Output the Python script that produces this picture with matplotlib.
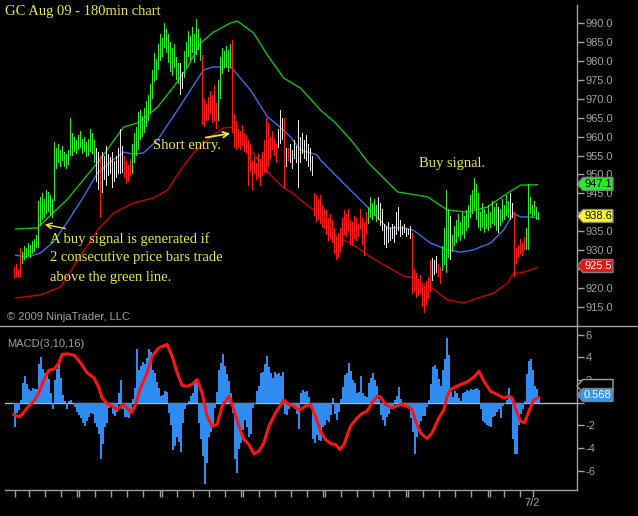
import matplotlib
matplotlib.use("Agg")
import matplotlib.pyplot as plt
from matplotlib.patches import Polygon
from matplotlib.lines import Line2D

# ---------------- data ----------------
highs = [925.5, 926.5, 925.0, 930.5,
         929.5, 931.0, 930.5, 932.0, 931.5, 932.5, 933.0, 934.0,
         943.0,
         944.0, 945.0, 943.5, 946.0, 945.5, 944.5, 943.5,
         958.5,
         957.0, 958.0, 956.5, 957.5, 956.0, 955.5, 956.5,
         965.0,
         961.0, 960.0, 959.0, 960.5, 961.5, 959.5, 960.0, 958.5, 959.5, 962.0, 961.0,
         959.0,
         957.0, 956.0,
         955.0,
         956.0, 955.0, 957.5, 955.5, 954.5, 956.0, 953.5, 955.0, 957.0, 962.0,
         957.5,
         955.0, 953.5, 952.5, 954.0,
         958.0, 961.0, 962.5, 966.5, 967.0, 965.5, 967.5,
         969.5, 971.0, 974.0,
         977.5, 982.0, 980.5,
         984.5, 987.0, 986.0,
         990.0, 988.5,
         987.0, 985.0, 983.5, 984.5,
         981.0, 979.5, 979.5, 977.0,
         982.5, 985.0, 988.0, 986.5, 989.0, 987.0, 991.0, 988.5, 986.0,
         981.5,
         970.0, 968.5, 970.5, 972.0, 971.0, 973.5, 969.0,
         975.0, 981.0, 983.5, 982.5, 984.0, 983.0, 984.5,
         985.5,
         966.0, 964.0, 962.0, 961.5, 963.0, 961.0, 960.5, 959.0, 958.0,
         953.5, 954.5, 953.0, 955.5, 954.0, 956.0,
         959.0, 965.0, 963.5, 960.0, 961.5, 959.5,
         958.0,
         962.0, 967.0, 965.0,
         965.0,
         957.0, 957.0, 958.0, 956.5, 959.0, 957.5,
         964.5,
         960.0, 961.0, 959.0, 960.5, 958.0, 957.0, 955.0,
         945.0, 944.5, 943.5, 944.5, 942.0, 941.0,
         940.5, 938.5, 939.5, 938.0, 936.0, 933.5, 934.5, 936.0, 938.5, 940.5, 939.5,
         941.0, 938.0, 937.5, 939.0, 938.5, 937.0, 941.0, 938.5, 937.5, 940.0,
         941.5, 944.0, 942.5, 943.5, 942.0, 944.0,
         942.5, 941.0, 937.0, 936.5, 937.5, 936.0, 937.0, 936.5, 940.0, 941.5, 938.0,
         936.5, 937.0, 936.0, 935.5, 936.5,
         934.5,
         925.0, 924.0, 922.5, 923.5, 921.0, 920.5, 922.0, 923.0, 927.5,
         928.0, 927.5, 928.5, 926.5, 925.5,
         931.0, 936.0, 946.0, 941.0,
         939.0,
         934.0, 936.5, 938.0, 939.5, 937.5, 940.0, 939.0, 940.5,
         942.0, 944.5, 946.0, 949.0, 947.5, 945.0,
         940.0, 942.5, 941.0, 939.5, 942.0, 940.0, 943.0, 941.5, 942.5,
         941.5,
         941.0, 943.5, 942.0, 944.5, 943.0,
         945.0, 942.5,
         940.0,
         930.5, 931.5, 933.0, 932.0, 933.5,
         936.0, 947.5,
         944.0, 942.0, 943.0, 941.5, 940.0]

lows = [922.5, 923.0, 922.8, 923.0,
        926.5, 927.5, 928.0, 928.5, 928.0, 929.0, 929.5, 930.5,
        930.5,
        936.5, 938.0, 938.5, 939.5, 940.0, 939.0, 938.5,
        943.0,
        951.5, 953.0, 952.0, 953.5, 952.0, 951.5, 952.5,
        955.0,
        955.0, 956.0, 955.5, 956.5, 957.0, 955.5, 956.0, 954.5, 955.0, 956.0, 955.5,
        953.0,
        948.0, 946.0,
        938.5,
        945.0, 948.5, 947.0, 949.5, 950.0, 946.5, 948.0, 949.0, 950.0, 950.0,
        950.5,
        949.0, 947.5, 948.0, 949.5,
        950.0, 953.0, 955.0, 956.5, 959.0, 960.0, 961.0,
        962.5, 964.0, 966.0,
        970.0, 974.5, 975.0,
        977.5, 980.0, 981.0,
        983.5, 982.0,
        979.5, 977.0, 976.0, 978.0,
        975.0, 974.0, 971.0, 972.5,
        975.5, 978.0, 981.0, 980.0, 982.0, 979.5, 981.5, 983.0, 980.0,
        963.0,
        962.5, 964.0, 964.5, 966.0, 963.5, 964.0, 962.0,
        964.0, 970.0, 976.5, 978.0, 978.5, 977.0, 978.0,
        961.0,
        957.0, 956.5, 957.0, 956.5, 957.5, 956.0, 955.5, 947.0, 951.0,
        946.0, 950.0, 948.5, 949.0, 947.0, 949.5,
        950.5, 950.5, 952.0, 954.0, 956.5, 955.0,
        953.0,
        957.0, 958.0, 959.0,
        946.5,
        952.0, 953.5, 953.0, 951.5, 954.0, 953.0,
        946.5,
        953.0, 955.5, 954.0, 953.5, 952.0, 951.0, 949.5,
        939.0, 937.5, 938.0, 937.0, 936.0, 935.5,
        934.0, 932.5, 933.0, 932.0, 929.0, 927.5, 928.0, 929.5, 931.0, 934.0, 933.5,
        935.0, 931.5, 931.0, 933.0, 932.5, 933.5, 935.5, 931.5, 928.5, 934.0,
        937.0, 938.5, 938.0, 939.0, 937.5, 938.0,
        936.5, 935.0, 931.5, 930.5, 932.0, 932.5, 933.0, 932.0, 934.0, 935.0, 933.5,
        934.0, 934.5, 933.5, 934.0, 933.0,
        918.5,
        919.0, 917.5, 918.0, 918.5, 915.0, 913.5, 915.5, 917.0, 919.0,
        922.0, 923.5, 924.0, 923.0, 921.0,
        924.5, 926.0, 924.0, 928.0,
        927.5,
        929.5, 931.0, 932.0, 933.5, 932.5, 934.0, 933.0, 935.0,
        936.0, 938.5, 939.5, 941.0, 938.0, 936.0,
        935.0, 936.0, 934.5, 935.5, 935.0, 936.0, 937.0, 936.5, 935.0,
        934.5,
        936.5, 937.5, 938.0, 939.0, 938.5,
        938.0, 938.5,
        923.0,
        926.5, 928.0, 929.0, 928.5, 930.0,
        930.0, 930.0,
        939.5, 938.5, 939.0, 938.0, 938.0]

# bar colour runs: R = down (red), G = up (green), W = neutral (white)
color_runs = [("R", 4), ("G", 37), ("W", 2), ("R", 1), ("W", 11), ("R", 4), ("G", 24),
              ("W", 2), ("G", 9), ("R", 8), ("G", 7), ("R", 23), ("W", 3), ("R", 1),
              ("W", 1), ("R", 1), ("W", 12), ("R", 27), ("G", 5), ("W", 17), ("R", 10),
              ("W", 3), ("R", 2), ("G", 4), ("W", 1), ("G", 23), ("W", 1), ("G", 5),
              ("W", 2), ("R", 6), ("G", 7)]

# bands (bar index, price)
upper_x = [0.5, 11.5, 26.5, 43, 54.5, 63, 71.5, 79.5, 86.5, 93, 99.5, 108, 111.5, 119.5,
           126.5, 134.5, 143, 153, 160.5, 169.5, 177, 180.5, 191.5, 206.5, 216.5, 226.5,
           236.5, 246.5, 253, 261.5]
upper_y = [935.6, 935.9, 943.5, 954.1, 962.5, 963.9, 967.8, 973.1, 978.4, 984.7, 987.6,
           990.0, 990.5, 987.4, 981.5, 975.5, 972.8, 967.0, 963.6, 958.3, 953.0, 951.2,
           945.4, 944.1, 940.6, 940.1, 941.4, 945.1, 947.2, 947.3]
mid_x = [0.5, 6.5, 13, 19.5, 26.5, 34.5, 41.5, 48, 54.5, 59.5, 64.5, 71.5, 81.5, 88, 94.5,
         99.5, 108, 109.5, 118, 126.5, 131.5, 138, 143, 151.5, 153, 163, 178, 186.5, 194.5,
         199.5, 208, 216.5, 223, 229.5, 238, 244.5, 249.5, 253, 258, 262]
mid_y = [928.7, 928.2, 929.3, 932.2, 937.5, 944.1, 950.4, 953.3, 955.9, 955.4, 955.7,
         959.1, 967.0, 972.3, 977.6, 978.4, 978.4, 977.6, 972.3, 965.2, 963.1, 959.9, 956.5,
         955.1, 953.8, 948.5, 940.6, 935.9, 935.9, 935.3, 931.9, 930.1, 929.5, 930.1, 931.9,
         935.3, 939.8, 938.8, 938.8, 938.6]
lower_x = [0.5, 13, 23, 31.5, 41.5, 49.5, 59.5, 69.5, 76.5, 83, 89.5, 98, 104.5, 109.5,
           115.5, 122, 127, 134, 139, 143, 149.5, 153, 161.5, 169.5, 178, 186.5, 194.5,
           199.5, 208, 216.5, 224.5, 233, 239.5, 246.5, 249.5, 253, 258, 261.5]
lower_y = [917.4, 918.2, 920.3, 927.4, 935.3, 939.8, 942.5, 943.8, 945.9, 951.2, 955.7,
           959.9, 962.3, 962.5, 958.3, 953.8, 950.4, 946.7, 945.1, 943.3, 940.6, 938.2,
           933.5, 931.4, 928.2, 925.6, 923.2, 922.7, 920.3, 916.9, 916.1, 917.6, 918.7,
           921.3, 924.0, 924.0, 924.8, 925.5]

macd_hist = [-2.2, -0.9, -0.7, 0.2, 1.7, 2.3, 1.6, 1.2, 1.0, 1.3, 1.2, 1.2, 3.4, 4.0, 3.0,
             2.6, 2.4, 2.1, 0.8, -0.6, 2.0, 3.0, 3.7, 2.2, 0.7, 0.1, -0.6, 0.1, 0.2, 0.0,
             -0.4, -0.8, -1.1, -1.4, -1.8, -2.1, -1.6, -1.3, -0.9, -1.0, -1.8, -2.2, -2.8,
             -5.0, -3.7, -2.2, -1.8, -0.5, -0.4, -1.0, -1.2, -0.8, 0.8, 2.0, -0.6, -1.3,
             -1.3, -1.4, -0.7, 0.3, 1.3, 4.7, 2.9, 3.2, 3.6, 3.4, 3.9, 4.7, 4.5, 2.9, 2.6,
             1.8, 1.3, 0.6, 0.7, 1.0, 0.9, -0.9, -2.0, -4.2, -3.8, -3.0, -3.5, -4.4, -1.8,
             -0.6, -0.2, 0.1, 0.6, 0.8, 2.0, 2.1, -1.8, -3.2, -4.7, -7.2, -5.3, -3.0, -2.6,
             -2.1, -0.5, 0.9, 2.9, 3.5, 4.3, 3.2, 2.5, 1.9, 0.8, -0.9, -5.0, -6.2, -4.1,
             -3.6, -2.4, -1.5, -2.2, -3.0, -2.8, -0.5, -0.1, 1.0, 1.5, 2.6, 2.7, 3.4, 4.1,
             3.1, 2.6, 2.2, 2.7, 2.5, 2.6, 2.3, 2.7, -1.0, -1.1, -0.6, -0.3, -0.2, -0.6,
             -1.0, -2.3, 0.8, 1.1, 0.9, 1.0, 0.5, -0.3, -3.2, -3.6, -2.9, -3.3, -3.4,
             -2.2, -2.0, -1.5, -1.7, -1.1, 0.4, -1.0, -1.5, -0.8, 0.3, 1.4, 2.4, 2.6, 3.5,
             2.8, 2.0, 1.7, 0.8, 0.9, 2.3, 0.8, 0.6, 0.5, 1.7, 2.2, 2.6, 2.0, 1.5, 0.3,
             -1.1, -1.5, -2.1, -1.3, -1.0, -0.6, -0.3, 0.2, 0.6, 1.4, 0.3, -0.3, -0.3, -0.4,
             -0.5, -1.4, -2.6, -4.5, -3.0, -2.0, -1.6, -1.2, -1.2, -0.4, 0.2, 1.6, 3.1, 3.3,
             3.0, 2.1, 1.5, 2.9, 3.8, 5.7, 4.2, 0.9, 0.5, 1.0, 0.8, 0.4, 0.1, 0.8, 0.9, 1.1,
             1.0, 1.2, 1.1, 1.2, 1.3, 1.1, -0.6, -1.6, -1.8, -2.0, -2.1, -2.2, -1.3, -1.2,
             -0.8, -0.6, -1.4, -0.3, -0.1, 0.2, 1.3, 0.6, -3.2, -4.5, -4.5, -2.0, -1.0, -0.6,
             0.1, 2.5, 3.7, 3.8, 2.9, 1.5, 1.2, 0.4]

macd_x = [-0.3, 2.2, 3.8, 6.3, 9.7, 12.2, 14.7, 17.2, 20, 22.2, 23.8, 26.3, 29.7, 33, 36.3,
          39.7, 42.2, 43.8, 46.3, 48.8, 51.3, 54.3, 56.3, 58.5, 60.5, 63, 66.3, 68.8, 72.2,
          76.3, 78.8, 81.3, 83.8, 86.3, 88.8, 91.3, 93.8, 96.3, 98.8, 101.3, 103.8, 107.2,
          109.7, 112.2, 114.7, 117.2, 119.7, 122.2, 124.7, 127.2, 130.5, 134.7, 137.2, 139.7,
          142.2, 145.5, 148, 150.5, 153, 155.5, 158, 160.5, 162.7, 164.7, 168, 171.3, 173.8,
          176.3, 178.8, 181.3, 183, 185.5, 188.8, 193, 196.3, 198.8, 200.5, 203, 206.3,
          208.8, 212.2, 214.7, 216.3, 218, 221.3, 223, 225.5, 228, 230.5, 232.2, 234.7, 238,
          241.3, 244.7, 247.2, 248.8, 251.3, 253, 255, 257.2, 259.7, 262.2]
macd_line = [-1.06, -1.26, -1.06, -0.47, 0.12, 0.85, 2.03, 2.85, 2.97, 3.5, 4.24, 4.29, 4.18,
             3.5, 2.62, 2.18, 1.29, 0.41, -0.09, -0.32, -0.62, -0.18, -0.47, -0.91, -0.18,
             1.29, 2.62, 4.09, 4.82, 5.12, 4.09, 2.62, 1.5, 1.44, 1.59, 2.03, 0.85, -1.21,
             -2.09, -1.94, -0.32, 0.56, -0.62, -2.09, -3.26, -3.71, -4.53, -4.29, -3.56,
             -2.09, -0.91, 0.21, -0.18, -0.32, -0.68, -0.32, -0.18, -1.21, -2.53, -3.26,
             -3.62, -3.71, -4.15, -3.71, -2.09, -1.35, -0.97, -0.76, -0.03, 0.56, 0.5, -0.18,
             -0.47, -0.18, -0.32, -0.62, -1.65, -2.68, -3.18, -2.68, -1.35, -0.62, 0.56, 1.15,
             1.44, 1.59, 1.74, 2.03, 2.38, 2.76, 1.88, 1.0, 0.71, 0.41, 0.56, 0.41, -0.91,
             -1.65, -1.79, -0.76, 0.26, 0.41]

price_ticks = [915, 920, 925, 930, 935, 940, 945, 950, 955, 960, 965, 970, 975, 980, 985, 990]
price_hidden = [925, 940]          # labels covered by the value markers
macd_ticks = [-6, -4, -2, 0, 2, 4, 6]
macd_hidden = [0]
time_ticks = [0.15, 7.15, 15.15, 23.15, 31.15, 32.15, 40.15, 48, 56, 64, 72.5, 73.5, 81, 89,
              97, 105, 113, 114, 122, 130, 138, 146, 154, 155, 163, 171, 179, 187, 195.5,
              196.5, 204, 212, 220, 228, 236.5, 237.5, 244.5, 252.5, 259]
time_labels = {259: "7/2"}

# ---------------- figure ----------------
W, H = 638, 516
fig = plt.figure(figsize=(W / 100, H / 100), dpi=100, facecolor="black")


def fx(px):
    return px / W


def fy(py):
    return 1 - py / H


GRAY = "#a0a0a0"
YEL = "#e8e84a"
BAR_COL = {"R": "#ff1a1a", "G": "#2ee82e", "W": "#e4e4e4"}

ax = fig.add_axes([fx(0), fy(326), fx(577), (326 - 5) / H])
ax.set_facecolor("black")
ax.set_xlim(-7.25, 281.25)
ax.set_ylim(910.0, 994.75)

colors = []
for c, n in color_runs:
    colors += [c] * n
idx = list(range(len(highs)))

# price bars: 1-pixel wide high-low columns
for key in ["R", "W", "G"]:
    xs = [i for i in idx if colors[i] == key]
    hs = [highs[i] - lows[i] for i in xs]
    bs = [lows[i] for i in xs]
    ax.bar(xs, hs, bottom=bs, width=0.5, color=BAR_COL[key], linewidth=0,
           antialiased=False, zorder=3)

ax.plot(upper_x, upper_y, color="#10c010", lw=1.0, zorder=2)
ax.plot(mid_x, mid_y, color="#3a6ee8", lw=1.0, zorder=2)
ax.plot(lower_x, lower_y, color="#c80000", lw=1.0, zorder=2)

for s in ["left", "top", "bottom"]:
    ax.spines[s].set_visible(False)
ax.spines["right"].set_color(GRAY)
ax.spines["right"].set_linewidth(1)
ax.yaxis.tick_right()
ax.set_yticks(price_ticks)
ax.set_yticklabels(["" if v in price_hidden else f"{v:.1f}" for v in price_ticks])
ax.tick_params(axis="y", colors=GRAY, length=5, width=1, pad=1, labelsize=8,
               labelcolor=GRAY)
for t in ax.get_yticklabels():
    t.set_fontfamily("Liberation Sans")
ax.set_xticks([])

# MACD panel
ax2 = fig.add_axes([fx(5), fy(490), fx(577) - fx(5), (490 - 326) / H])
ax2.set_facecolor("black")
ax2.set_xlim(-4.75, 281.25)
ax2.set_ylim(-7.72, 6.75)
ax2.bar(idx, macd_hist, width=1.0, color="#2f8cf0", linewidth=0, zorder=2)
ax2.axhline(0, color="#b8b8b8", lw=1, zorder=1)
ax2.plot(macd_x, macd_line, color="#ff1414", lw=2.2, zorder=3)
for s in ["left", "top"]:
    ax2.spines[s].set_visible(False)
for s in ["right", "bottom"]:
    ax2.spines[s].set_color(GRAY)
    ax2.spines[s].set_linewidth(1)
ax2.yaxis.tick_right()
ax2.set_yticks(macd_ticks)
ax2.set_yticklabels(["" if v in macd_hidden else str(v) for v in macd_ticks])
ax2.set_xticks(time_ticks)
ax2.set_xticklabels([time_labels.get(t, "") for t in time_ticks])
ax2.tick_params(colors=GRAY, length=5, width=1, pad=1, labelsize=8, labelcolor=GRAY)
for t in ax2.get_yticklabels() + ax2.get_xticklabels():
    t.set_fontfamily("Liberation Sans")

# separator
fig.add_artist(Line2D([0, 1], [fy(326), fy(326)], transform=fig.transFigure,
                      color=GRAY, lw=1))


def value_box(yc, text, face, tcol, edge="#808080", z=10, show=True):
    pts = [(577, yc), (583, yc - 6.5), (613, yc - 6.5), (613, yc + 6.5), (583, yc + 6.5)]
    poly = Polygon([(fx(a), fy(b)) for a, b in pts], closed=True, transform=fig.transFigure,
                   facecolor=face, edgecolor=edge, lw=1, zorder=z)
    fig.add_artist(poly)
    if show:
        fig.text(fx(598), fy(yc), text, color=tcol, fontsize=8, ha="center", va="center",
                 family="Liberation Sans", zorder=z + 1)


value_box(184, "947.1", "#22ee22", "black")
value_box(216, "938.6", "#ffff22", "black")
value_box(266, "925.5", "#ee1111", "white")
value_box(386, "", "black", GRAY, edge=GRAY, z=8, show=False)
value_box(395, "0.568", "#3398ee", "white")

# texts
fig.text(fx(5), fy(12), "GC Aug 09 - 180min chart", color=YEL, fontsize=10.5,
         family="Liberation Serif", va="center", ha="left")
fig.text(fx(153), fy(145), "Short entry.", color=YEL, fontsize=10.5,
         family="Liberation Serif", va="center", ha="left")
fig.text(fx(419), fy(163), "Buy signal.", color=YEL, fontsize=10.5,
         family="Liberation Serif", va="center", ha="left")
for k, line in enumerate(["A buy signal is generated if",
                          "2 consecutive price bars trade",
                          "above the green line."]):
    fig.text(fx(50), fy(239 + 19 * k), line, color=YEL, fontsize=10.5,
             family="Liberation Serif", va="center", ha="left")
fig.text(fx(7), fy(317), "\u00a9 2009 NinjaTrader, LLC", color=GRAY, fontsize=8,
         family="Liberation Sans", va="center", ha="left")
fig.text(fx(7), fy(344), "MACD(3,10,16)", color=GRAY, fontsize=8,
         family="Liberation Sans", va="center", ha="left")

ax.annotate("", xy=(fx(42), fy(224)), xytext=(fx(68), fy(229)),
            xycoords="figure fraction", textcoords="figure fraction",
            arrowprops=dict(arrowstyle="->", color=YEL, lw=1.0))
ax.annotate("", xy=(fx(233), fy(133)), xytext=(fx(203), fy(138)),
            xycoords="figure fraction", textcoords="figure fraction",
            arrowprops=dict(arrowstyle="->", color=YEL, lw=1.3))

fig.savefig("out.png", dpi=100, facecolor="black")
